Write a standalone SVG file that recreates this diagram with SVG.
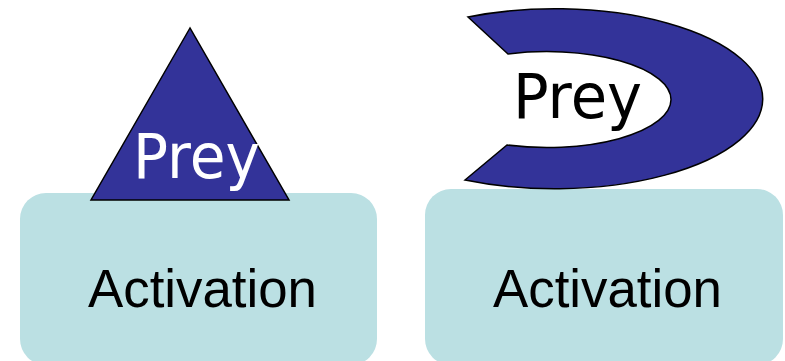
<svg xmlns="http://www.w3.org/2000/svg" width="785" height="361" viewBox="0 0 785 361">
<style>
.box{fill:#BBE0E3;}
.shape{fill:#333399;stroke:#000;stroke-width:1.5;stroke-linejoin:miter;}
.act{font-family:"Liberation Sans",Arial,sans-serif;font-size:53px;fill:#000;}
.prey{font-family:"DejaVu Sans","Noto Sans",sans-serif;font-size:62px;}
</style>
<rect width="785" height="361" fill="#fff"/>
<g id="left-activation">
<rect class="box" x="20" y="193" width="357" height="172" rx="26"/>
<text class="act" x="202.5" y="307" text-anchor="middle" textLength="229" lengthAdjust="spacingAndGlyphs">Activation</text>
</g>
<g id="left-prey">
<polygon class="shape" points="190,28 91,200 289,200"/>
<text class="prey" x="133" y="178" fill="#fff" textLength="127" lengthAdjust="spacingAndGlyphs">Prey</text>
</g>
<g id="right-activation">
<rect class="box" x="425" y="189" width="358" height="176" rx="26"/>
<text class="act" x="607.5" y="307" text-anchor="middle" textLength="229" lengthAdjust="spacingAndGlyphs">Activation</text>
</g>
<g id="right-prey">
<path class="shape" d="M468,17 L508,54 A124,48 0 1,1 507,145 L465,180 A208,90 0 1,0 468,17 Z"/>
<text class="prey" x="513" y="118" fill="#000" textLength="129" lengthAdjust="spacingAndGlyphs">Prey</text>
</g>
<g id="connectors"></g>
</svg>
